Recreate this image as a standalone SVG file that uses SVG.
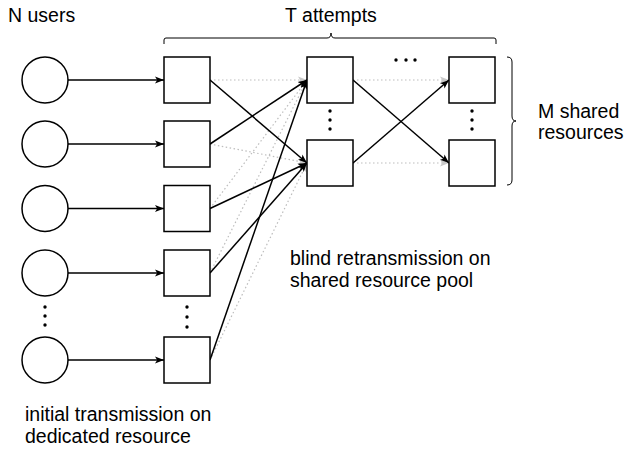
<svg xmlns="http://www.w3.org/2000/svg" width="624" height="452" viewBox="0 0 624 452">
<style>
  .user { fill: #fff; stroke: #000; stroke-width: 1.5; }
  .res { fill: #fff; stroke: #000; stroke-width: 1.5; }
  .edge { fill: none; stroke: #000; stroke-width: 1.5; marker-end: url(#arr); }
  .dot { fill: none; stroke: #bdbdbd; stroke-width: 1.2; stroke-dasharray: 1.5 2.5; marker-end: url(#arrg); }
  .brace { fill: none; stroke: #000; stroke-width: 1; }
  .lbl { font-family: "Liberation Sans", Arial, sans-serif; font-size: 19.5px; fill: #000; }
  .ell { fill: #000; }
</style>
<defs>
  <marker id="arr" markerUnits="userSpaceOnUse" markerWidth="10" markerHeight="8" refX="9" refY="4" orient="auto">
    <path d="M0,0.5 L9,4 L0,7.5 L2.2,4 z" fill="#000"/>
  </marker>
  <marker id="arrg" markerUnits="userSpaceOnUse" markerWidth="10" markerHeight="8" refX="9" refY="4" orient="auto">
    <path d="M0,0.5 L9,4 L0,7.5 L2.2,4 z" fill="#c8c8c8"/>
  </marker>
</defs>
<rect width="624" height="452" fill="#fff"/>

<g id="labels">
  <text class="lbl" x="8" y="22">N users</text>
  <text class="lbl" x="331" y="22" text-anchor="middle">T attempts</text>
  <text class="lbl" x="538" y="118">M shared</text>
  <text class="lbl" x="538" y="139">resources</text>
  <text class="lbl" x="290" y="265">blind retransmission on</text>
  <text class="lbl" x="290" y="287">shared resource pool</text>
  <text class="lbl" x="25" y="421">initial transmission on</text>
  <text class="lbl" x="25" y="443">dedicated resource</text>
</g>

<g id="brackets">
  <path class="brace" d="M164,44 V40 Q164,38 166,38 H327 Q331,38 331,33 Q331,38 335,38 H494 Q496,38 496,40 V44"/>
  <path class="brace" d="M507,57 Q512,57 512,62 V116 Q512,121 516,121 Q512,121 512,126 V180 Q512,185 507,185"/>
</g>

<g id="ellipses">
  <circle class="ell" cx="45" cy="307" r="1.7"/>
  <circle class="ell" cx="45" cy="316" r="1.7"/>
  <circle class="ell" cx="45" cy="325" r="1.7"/>
  <circle class="ell" cx="187" cy="307" r="1.7"/>
  <circle class="ell" cx="187" cy="317" r="1.7"/>
  <circle class="ell" cx="187" cy="327" r="1.7"/>
  <circle class="ell" cx="330" cy="111" r="1.7"/>
  <circle class="ell" cx="330" cy="120" r="1.7"/>
  <circle class="ell" cx="330" cy="129" r="1.7"/>
  <circle class="ell" cx="472" cy="111" r="1.7"/>
  <circle class="ell" cx="472" cy="120" r="1.7"/>
  <circle class="ell" cx="472" cy="129" r="1.7"/>
  <circle class="ell" cx="396" cy="60" r="1.7"/>
  <circle class="ell" cx="406" cy="60" r="1.7"/>
  <circle class="ell" cx="415" cy="60" r="1.7"/>
</g>

<g id="connectors">
  <line class="dot" x1="210" y1="80" x2="307" y2="80"/>
  <line class="dot" x1="210" y1="144" x2="307" y2="163"/>
  <line class="dot" x1="210" y1="208.5" x2="307" y2="80"/>
  <line class="dot" x1="210" y1="273" x2="307" y2="80"/>
  <line class="dot" x1="210" y1="360" x2="307" y2="163"/>
  <line class="dot" x1="353" y1="80" x2="449" y2="80"/>
  <line class="dot" x1="353" y1="163" x2="449" y2="163"/>
  <line class="edge" x1="68" y1="80" x2="164" y2="80"/>
  <line class="edge" x1="68" y1="144" x2="164" y2="144"/>
  <line class="edge" x1="68" y1="208.5" x2="164" y2="208.5"/>
  <line class="edge" x1="68" y1="273" x2="164" y2="273"/>
  <line class="edge" x1="68" y1="360" x2="164" y2="360"/>
  <line class="edge" x1="210" y1="80" x2="307" y2="163"/>
  <line class="edge" x1="210" y1="144" x2="307" y2="80"/>
  <line class="edge" x1="210" y1="208.5" x2="307" y2="163"/>
  <line class="edge" x1="210" y1="273" x2="307" y2="163"/>
  <line class="edge" x1="210" y1="360" x2="307" y2="80"/>
  <line class="edge" x1="353" y1="80" x2="449" y2="163"/>
  <line class="edge" x1="353" y1="163" x2="449" y2="80"/>
</g>

<g id="user1"><circle class="user" cx="45" cy="80" r="23"/></g>
<g id="user2"><circle class="user" cx="45" cy="144" r="23"/></g>
<g id="user3"><circle class="user" cx="45" cy="208.5" r="23"/></g>
<g id="user4"><circle class="user" cx="45" cy="273" r="23"/></g>
<g id="user5"><circle class="user" cx="45" cy="360" r="23"/></g>

<g id="ded1"><rect class="res" x="164" y="57" width="46" height="46"/></g>
<g id="ded2"><rect class="res" x="164" y="121" width="46" height="46"/></g>
<g id="ded3"><rect class="res" x="164" y="185.5" width="46" height="46"/></g>
<g id="ded4"><rect class="res" x="164" y="250" width="46" height="46"/></g>
<g id="ded5"><rect class="res" x="164" y="337" width="46" height="46"/></g>

<g id="sh1a"><rect class="res" x="307" y="57" width="46" height="46"/></g>
<g id="sh1b"><rect class="res" x="307" y="140" width="46" height="46"/></g>
<g id="sh2a"><rect class="res" x="449" y="57" width="46" height="46"/></g>
<g id="sh2b"><rect class="res" x="449" y="140" width="46" height="46"/></g>
</svg>
